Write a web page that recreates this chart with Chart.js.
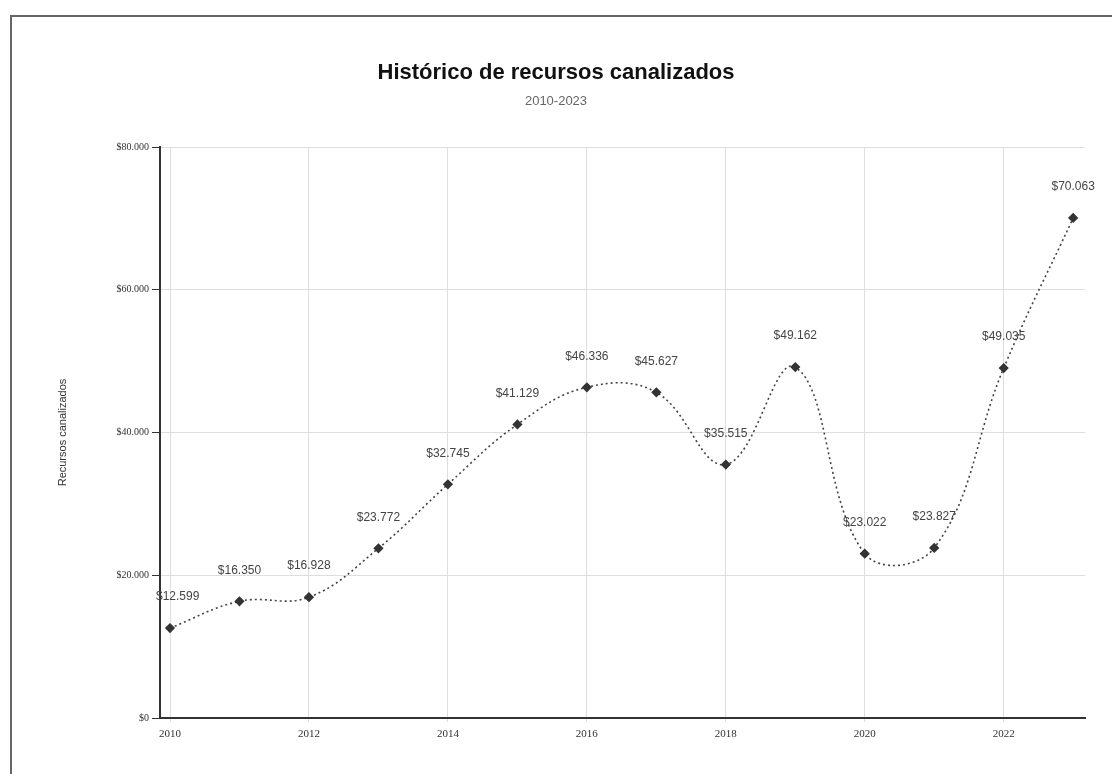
<!DOCTYPE html>
<html>
<head>
<meta charset="utf-8">
<script src="https://cdn.jsdelivr.net/npm/chart.js@4/dist/chart.umd.min.js"></script>
<style>
  html, body { margin: 0; padding: 0; background: #fff; }
  #wrap { position: relative; width: 1112px; height: 774px; overflow: hidden; }
  #frame { position: absolute; left: 10px; top: 15px; width: 1120px; height: 800px;
           border-left: 2px solid #666; border-top: 2px solid #666; }
  canvas { position: absolute; left: 0; top: 0; }
</style>
</head>
<body>
<div id="wrap">
  <div id="frame"></div>
  <canvas id="lineChart" width="1112" height="774"></canvas>
</div>
<script>
// data
const years = [2010, 2011, 2012, 2013, 2014, 2015, 2016, 2017, 2018, 2019, 2020, 2021, 2022, 2023];
const recursos = [12599, 16350, 16928, 23772, 32745, 41129, 46336, 45627, 35515, 49162, 23022, 23827, 49035, 70063];
const xTicks = [2010, 2012, 2014, 2016, 2018, 2020, 2022];
const yTicks = [0, 20000, 40000, 60000, 80000];

const money = (v) => "$" + String(Math.round(v)).replace(/\B(?=(\d{3})+(?!\d))/g, ".");

// labels above each point
const valueLabels = {
  id: "valueLabels",
  afterDatasetsDraw(chart) {
    const ctx = chart.ctx;
    const meta = chart.getDatasetMeta(0);
    ctx.save();
    ctx.font = "12px 'Liberation Sans', Arial, sans-serif";
    ctx.fillStyle = "#444";
    ctx.textAlign = "center";
    ctx.textBaseline = "middle";
    meta.data.forEach((pt, i) => {
      const txt = money(recursos[i]);
      const w = ctx.measureText(txt).width;
      let x = pt.x;
      if (x - w / 2 < chart.chartArea.left - 4) x = chart.chartArea.left - 4 + w / 2;
      ctx.fillText(txt, x, pt.y - 31);
    });
    ctx.restore();
  },
};

const ctx = document.getElementById("lineChart").getContext("2d");
new Chart(ctx, {
  type: "line",
  data: {
    datasets: [
      {
        label: "Recursos canalizados",
        data: years.map((y, i) => ({ x: y, y: recursos[i] })),
        borderColor: "#444",
        borderWidth: 1.6,
        borderDash: [2, 3],
        tension: 0.4,
        pointStyle: "rectRot",
        pointRadius: 4,
        pointBackgroundColor: "#333",
        pointBorderColor: "#333",
      },
    ],
  },
  options: {
    responsive: false,
    animation: false,
    layout: { padding: { left: 27, right: 27, top: 0, bottom: 0 } },
    plugins: {
      legend: { display: false },
      tooltip: { enabled: false },
      title: {
        display: true,
        text: "Histórico de recursos canalizados",
        color: "#111",
        font: { family: "'Liberation Sans', Arial, sans-serif", size: 22, weight: "bold" },
        padding: { top: 60, bottom: 0 },
      },
      subtitle: {
        display: true,
        text: "2010-2023",
        color: "#666",
        font: { family: "'Liberation Sans', Arial, sans-serif", size: 13 },
        padding: { top: 7, bottom: 38 },
      },
    },
    scales: {
      x: {
        type: "linear",
        min: 2009.856,
        max: 2023.17,
        afterBuildTicks: (scale) => {
          scale.ticks = xTicks.map((v) => ({ value: v }));
        },
        afterFit: (scale) => { scale.height = 56; },
        ticks: {
          callback: (v) => String(v),
          color: "#333",
          padding: 6,
          font: { family: "'Liberation Serif', serif", size: 11 },
        },
        grid: { color: "#dedede", tickLength: 4, drawTicks: true },
        border: { color: "#333", width: 2 },
      },
      y: {
        min: 0,
        max: 80000,
        afterBuildTicks: (scale) => {
          scale.ticks = yTicks.map((v) => ({ value: v }));
        },
        afterFit: (scale) => { scale.width = 133; },
        ticks: {
          callback: (v) => money(v),
          color: "#333",
          padding: 3,
          font: { family: "'Liberation Serif', serif", size: 10 },
        },
        grid: { color: "#dedede", tickLength: 8, tickColor: "#333" },
        border: { color: "#333", width: 2 },
        title: {
          display: true,
          text: "Recursos canalizados",
          color: "#333",
          font: { family: "'Liberation Sans', Arial, sans-serif", size: 11 },
          padding: { top: 29, bottom: 0 },
        },
      },
    },
  },
  plugins: [valueLabels],
});
</script>
</body>
</html>
